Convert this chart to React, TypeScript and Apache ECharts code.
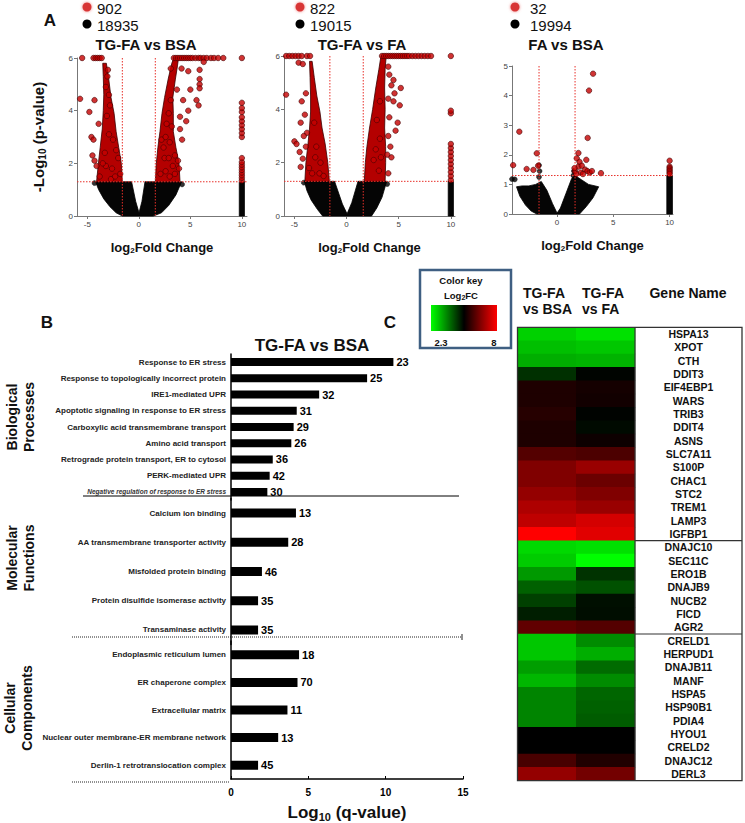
import React, { useEffect, useRef } from 'react';
import * as echarts from 'echarts';

// ---------------- Panel A : volcano plots ----------------
const volcanoTitles = ['TG-FA vs BSA', 'TG-FA vs FA', 'FA vs BSA'];
const sigCounts = ['902', '822', '32'];
const nonSigCounts = ['18935', '19015', '19994'];
const pThreshold = 1.3;
const fcThreshold = 1.6;
const volcanoXTicks = [[-5, 0, 5, 10], [-5, 0, 5, 10], [0, 5, 10]];

// plot 1: TG-FA vs BSA
const v1BlackArea = [[-4.2, 1.3], [-3.9, 1.0], [-3.4, 0.65], [-2.8, 0.35], [-2.2, 0.12], [-1.6, 0], [1.4, 0], [2.2, 0.12], [2.9, 0.4], [3.6, 0.8], [4.15, 1.3], [0.6, 1.3], [0.3, 0.55], [0.02, 0.12], [-0.3, 0.55], [-0.7, 1.3]];
const v1ColBlack = [[9.75, 0], [10.25, 0], [10.25, 1.3], [9.75, 1.3]];
const v1RedLeft = [[-4.1, 1.3], [-3.95, 1.9], [-3.75, 2.6], [-3.55, 3.3], [-3.45, 4.0], [-3.4, 4.6], [-3.45, 5.3], [-3.5, 5.8], [-3.15, 5.8], [-2.95, 5.3], [-2.7, 4.5], [-2.4, 3.9], [-2.2, 3.2], [-1.95, 2.6], [-1.7, 2.0], [-1.6, 1.3]];
const v1RedRight = [[1.6, 1.3], [1.7, 2.0], [1.85, 2.6], [2.05, 3.2], [2.25, 3.9], [2.5, 4.5], [2.85, 5.2], [3.2, 5.8], [3.4, 6], [3.85, 6], [3.75, 5.7], [3.55, 5.2], [3.3, 4.5], [3.35, 3.9], [3.35, 3.2], [3.6, 2.6], [3.9, 2.0], [4.0, 1.3]];
const v1RedPoints = [
  [-5.5, 6], [-4.4, 6], [-4.2, 6], [-4.0, 6], [-3.8, 6], [-3.6, 6],
  [3.4, 6], [3.6, 6], [3.8, 6], [4.0, 6], [4.2, 6], [4.4, 6], [4.6, 6], [4.8, 6], [5.0, 6], [5.2, 6], [5.5, 6], [5.8, 6], [6.0, 6], [6.3, 6], [6.6, 6], [7.0, 6], [7.3, 6], [7.7, 6], [8.2, 6],
  [-5.7, 4.45], [-4.8, 3.95], [-4.3, 4.4], [-4.6, 3.0], [-4.4, 2.9], [-4.5, 2.3], [-4.3, 2.1], [-4.1, 1.9], [-3.9, 3.5], [-3.0, 5.55], [-3.05, 5.3], [-2.8, 4.2], [-2.5, 2.9], [-2.2, 2.5], [-2.0, 2.2], [-1.8, 1.6], [-3.8, 1.5], [-3.2, 1.9], [-2.7, 1.4],
  [-3.3, 2.4], [-2.9, 3.1], [-3.1, 3.8], [-2.6, 1.8], [-3.5, 2.0], [-2.3, 1.5], [-2.9, 4.6], [-3.2, 4.9],
  [2.1, 1.6], [2.5, 2.2], [3.0, 2.8], [3.5, 2.3], [3.9, 1.8], [4.2, 2.9], [4.0, 3.3], [4.15, 5.6], [4.8, 5.5], [5.9, 5.55], [5.9, 5.2], [5.9, 5.0], [5.9, 4.85], [5.0, 4.8], [5.6, 4.4], [5.8, 4.2], [4.8, 4.0], [4.0, 3.77], [4.3, 4.4], [6.3, 5.85], [3.7, 4.8], [3.1, 5.6], [2.7, 3.5], [3.8, 2.1], [4.6, 3.6], [3.0, 1.5], [3.5, 1.6], [2.2, 2.9],
  [2.6, 1.7], [2.9, 2.2], [3.3, 1.9], [2.4, 2.6], [2.9, 3.9], [3.1, 4.4], [2.6, 3.0], [3.2, 3.4],
  [10, 1.35], [10, 1.45], [10, 1.55], [10, 1.65], [10, 1.75], [10, 1.85], [10, 1.95], [10, 2.05], [10, 2.2], [10, 3.0], [10, 3.15], [10, 3.3], [10, 3.45], [10, 3.6], [10, 3.75], [10, 3.95], [10, 4.1], [10, 4.3], [10, 6]
];
const v1BlackPoints = [[-4.3, 1.25], [4.2, 1.2]];

// plot 2: TG-FA vs FA
const v2BlackArea = [[-4.05, 1.3], [-3.8, 0.95], [-3.4, 0.6], [-2.8, 0.25], [-2.3, 0], [2.4, 0], [2.9, 0.3], [3.4, 0.7], [3.85, 1.3], [1.1, 1.3], [0.5, 0.5], [0.05, 0.08], [-0.4, 0.45], [-1.15, 1.3]];
const v2ColBlack = [[9.75, 0], [10.25, 0], [10.25, 1.3], [9.75, 1.3]];
const v2RedLeft = [[-4.0, 1.3], [-3.9, 2.0], [-3.7, 2.7], [-3.55, 3.3], [-3.45, 3.9], [-3.45, 4.5], [-3.5, 5.2], [-3.55, 5.8], [-3.3, 5.8], [-3.1, 5.2], [-2.85, 4.5], [-2.55, 3.9], [-2.35, 3.3], [-2.05, 2.7], [-1.8, 2.0], [-1.65, 1.3]];
const v2RedRight = [[1.7, 1.3], [1.8, 2.0], [1.95, 2.6], [2.2, 3.3], [2.5, 4.0], [2.8, 4.8], [3.1, 5.5], [3.3, 6], [3.8, 6], [3.7, 5.5], [3.65, 4.8], [3.7, 4.0], [3.65, 3.3], [3.75, 2.6], [3.75, 2.0], [3.7, 1.3]];
const v2RedPoints = [
  [-5.8, 6], [-5.5, 6], [-5.2, 6], [-4.9, 6], [-4.6, 6], [-4.3, 6], [-3.8, 6], [-3.5, 6],
  [3.4, 6], [3.6, 6], [3.8, 6], [4.0, 6], [4.2, 6], [4.4, 6], [4.6, 6], [4.8, 6], [5.0, 6], [5.2, 6], [5.4, 6], [5.6, 6], [5.8, 6], [6.0, 6], [6.3, 6], [6.6, 6], [6.9, 6], [7.2, 6], [7.5, 6], [7.8, 6], [8.1, 6],
  [-5.8, 4.55], [-5.0, 2.8], [-4.8, 2.7], [-4.4, 1.84], [-4.2, 2.15], [-3.8, 3.12], [-4.3, 4.3], [-4.6, 5.75], [-4.2, 5.7], [-4.4, 3.5], [-4.5, 2.4], [-3.0, 2.2], [-2.6, 1.6], [-2.2, 1.5], [-3.3, 1.6],
  [-3.9, 2.6], [-4.1, 3.0], [-4.0, 3.8], [-3.9, 4.6], [-2.9, 2.6], [-3.1, 3.5], [-2.5, 2.0], [-3.6, 1.8],
  [5.2, 4.8], [5.1, 4.15], [4.9, 3.5], [4.6, 4.6], [4.5, 4.3], [4.3, 4.9], [4.7, 3.2], [4.2, 2.6], [4.3, 2.2], [4.0, 1.6], [3.1, 1.7], [2.6, 2.1], [3.2, 2.9], [4.5, 5.1], [4.1, 5.3], [4.0, 5.6],
  [4.0, 3.0], [4.1, 3.7], [4.0, 4.4], [3.9, 2.3], [2.8, 2.5], [3.3, 2.2], [2.9, 3.6], [3.2, 4.3],
  [10, 1.35], [10, 1.5], [10, 1.65], [10, 1.8], [10, 1.95], [10, 2.1], [10, 2.25], [10, 2.4], [10, 2.55], [10, 2.7], [10, 3.85], [10, 3.95], [10, 6]
];
const v2BlackPoints = [[-4.1, 1.25], [3.9, 1.2]];

// plot 3: FA vs BSA
const v3BlackArea = [[-3.6, 0.92], [-3.3, 0.6], [-2.8, 0.3], [-2.3, 0.1], [-1.8, 0], [2.0, 0], [2.6, 0.25], [3.2, 0.55], [3.7, 0.92], [2.8, 1.0], [2.2, 1.15], [1.6, 1.3], [1.3, 1.2], [0.8, 0.7], [0.3, 0.2], [0, 0.03], [-0.4, 0.35], [-0.9, 0.8], [-1.4, 1.1], [-1.9, 1.0], [-2.5, 0.95], [-3.1, 0.95]];
const v3ColBlack = [[9.75, 0], [10.25, 0], [10.25, 1.3], [9.75, 1.3]];
const v3RedPoints = [
  [-3.9, 1.65], [-3.35, 2.78], [-2.7, 1.52], [-2.1, 1.49], [-1.8, 2.05], [-1.68, 1.63],
  [1.6, 1.45], [1.75, 1.88], [1.9, 2.06], [2.0, 1.76], [1.9, 1.6], [2.2, 1.63], [2.1, 1.4], [2.6, 1.83], [2.5, 1.5], [2.72, 2.57], [2.84, 4.17], [3.2, 4.74], [2.7, 1.45], [2.9, 1.4], [3.1, 1.45], [3.9, 1.38], [2.3, 1.35], [1.7, 1.35], [1.55, 1.55],
  [10, 1.8], [10, 1.6], [10, 1.55], [10, 1.5], [10, 1.45], [10, 1.4], [10, 1.35]
];
const v3BlackPoints = [[-4.0, 1.18], [-3.75, 1.17], [-1.6, 1.65], [-1.55, 1.45], [-1.6, 1.25], [1.5, 1.45], [1.45, 1.3]];

// ---------------- Panel B : GO enrichment ----------------
const bpTerms = ['Response to ER stress', 'Response to topologically incorrect protein', 'IRE1-mediated UPR', 'Apoptotic signaling in response to ER stress', 'Carboxylic acid transmembrane transport', 'Amino acid transport', 'Retrograde protein transport, ER to cytosol', 'PERK-mediated UPR', 'Negative regulation of response to ER stress'];
const bpValues = [10.5, 8.8, 5.7, 4.25, 4.05, 3.9, 2.7, 2.5, 2.35];
const bpCounts = [23, 25, 32, 31, 29, 26, 36, 42, 30];
const mfTerms = ['Calcium ion binding', 'AA transmembrane transporter activity', 'Misfolded protein binding', 'Protein disulfide isomerase activity', 'Transaminase activity'];
const mfValues = [4.2, 3.7, 2.0, 1.75, 1.75];
const mfCounts = [13, 28, 46, 35, 35];
const ccTerms = ['Endoplasmic reticulum lumen', 'ER chaperone complex', 'Extracellular matrix', 'Nuclear outer membrane-ER membrane network', 'Derlin-1 retrotranslocation complex'];
const ccValues = [4.4, 4.3, 3.65, 3.05, 1.75];
const ccCounts = [18, 70, 11, 13, 45];

// ---------------- Panel C : heatmap ----------------
const heatColumns = ['TG-FA vs BSA', 'TG-FA vs FA'];
const genes = ['HSPA13', 'XPOT', 'CTH', 'DDIT3', 'EIF4EBP1', 'WARS', 'TRIB3', 'DDIT4', 'ASNS', 'SLC7A11', 'S100P', 'CHAC1', 'STC2', 'TREM1', 'LAMP3', 'IGFBP1', 'DNAJC10', 'SEC11C', 'ERO1B', 'DNAJB9', 'NUCB2', 'FICD', 'AGR2', 'CRELD1', 'HERPUD1', 'DNAJB11', 'MANF', 'HSPA5', 'HSP90B1', 'PDIA4', 'HYOU1', 'CRELD2', 'DNAJC12', 'DERL3'];
const geneGroupSizes = [16, 7, 11];
const fcTgVsBsa = [2.81, 3.01, 3.21, 4.61, 5.49, 5.49, 5.58, 5.49, 5.49, 6.09, 6.58, 6.58, 6.8, 7.09, 7.29, 8.0, 2.73, 2.87, 3.44, 4.07, 4.44, 4.81, 6.23, 2.93, 2.93, 3.38, 3.1, 3.67, 3.67, 3.67, 5.15, 5.15, 5.95, 6.8];
const fcTgVsFa = [2.64, 2.93, 3.15, 5.1, 5.38, 5.35, 5.12, 5.04, 5.3, 6.0, 6.86, 6.35, 6.58, 6.86, 7.52, 7.66, 2.64, 2.3, 4.58, 4.24, 4.98, 5.01, 6.09, 3.58, 3.21, 3.95, 3.58, 4.01, 4.07, 4.12, 5.15, 5.15, 5.52, 6.43];
const keyMin = 2.3;
const keyMax = 8;
const keyColors = ['#00ff00', '#000000', '#ff0000'];

const FONT = 'Liberation Sans, Arial, sans-serif';
const NARROW = 'Liberation Sans Narrow, Arial Narrow, sans-serif';

function polySeries(points: number[][], idx: number, fill: string, stroke: string, z: number) {
  return {
    type: 'custom', xAxisIndex: idx, yAxisIndex: idx, data: points, silent: true, z,
    renderItem: (params: any, api: any) => {
      if (params.dataIndex !== 0) return { type: 'group', children: [] };
      return {
        type: 'polygon',
        shape: { points: points.map((p) => api.coord(p)) },
        style: { fill, stroke, lineWidth: 0.8 },
      };
    },
  };
}

// threshold lines: [x, y, orientation(0 = horizontal at y, 1 = vertical at x)]
function thresholdSeries(idx: number) {
  const data = [[0, pThreshold, 0], [-fcThreshold, 0, 1], [fcThreshold, 0, 1]];
  return {
    type: 'custom', xAxisIndex: idx, yAxisIndex: idx, data, silent: true, z: 6,
    encode: { x: 0, y: 1 },
    renderItem: (params: any, api: any) => {
      const cs = params.coordSys;
      const pt = api.coord([api.value(0), api.value(1)]);
      const shape = api.value(2) === 0
        ? { x1: cs.x, y1: pt[1], x2: cs.x + cs.width, y2: pt[1] }
        : { x1: pt[0], y1: cs.y, x2: pt[0], y2: cs.y + cs.height };
      return { type: 'line', shape, style: { stroke: '#e8302a', lineWidth: 1, lineDash: [1.5, 1.5] } };
    },
  };
}

function buildOption() {
  const volcanoGrids = [
    { left: 77, top: 58, width: 170, height: 158 },
    { left: 284, top: 56, width: 171, height: 160 },
    { left: 512, top: 66, width: 161, height: 148 },
  ];
  const xRanges = [[-6, 10.5], [-6, 10.4], [-4, 10.3]];
  const yMax = [6, 6, 5];
  const yInt = [2, 2, 1];
  const blackAreas = [v1BlackArea, v2BlackArea, v3BlackArea];
  const colBlacks = [v1ColBlack, v2ColBlack, v3ColBlack];
  const redAreas = [[v1RedLeft, v1RedRight], [v2RedLeft, v2RedRight], []];
  const redPts = [v1RedPoints, v2RedPoints, v3RedPoints];
  const blackPts = [v1BlackPoints, v2BlackPoints, v3BlackPoints];

  const subRich = (size: number, sub: number) => ({
    b: { fontSize: size, fontWeight: 'bold', color: '#111', fontFamily: FONT },
    s: { fontSize: sub, fontWeight: 'bold', color: '#111', fontFamily: FONT, padding: [Math.round(size * 0.45), 0, 0, 0] },
  });

  const grid: any[] = [];
  const xAxis: any[] = [];
  const yAxis: any[] = [];
  const series: any[] = [];

  for (let i = 0; i < 3; i++) {
    grid.push(volcanoGrids[i]);
    xAxis.push({
      gridIndex: i, type: 'value', min: xRanges[i][0], max: xRanges[i][1],
      splitLine: { show: false },
      axisLine: { show: true, onZero: false, lineStyle: { color: '#777', width: 1 } },
      axisTick: { show: true, length: 3, customValues: volcanoXTicks[i], lineStyle: { color: '#777' } },
      axisLabel: { customValues: volcanoXTicks[i], fontSize: 8, color: '#444', margin: 4, fontFamily: FONT },
      name: '{b|log}{s|2}{b|Fold Change}', nameLocation: 'middle', nameGap: 24,
      nameTextStyle: { rich: subRich(13, 8) },
    });
    yAxis.push({
      gridIndex: i, type: 'value', min: 0, max: yMax[i], interval: yInt[i],
      splitLine: { show: false },
      axisLine: { show: true, onZero: false, lineStyle: { color: '#777', width: 1 } },
      axisTick: { show: true, length: 3, lineStyle: { color: '#777' } },
      axisLabel: { fontSize: 8, color: '#444', margin: 4, fontFamily: FONT },
      name: i === 0 ? '{b|-Log}{s|10}{b| (p-value)}' : '', nameLocation: 'middle', nameGap: 30,
      nameTextStyle: { rich: subRich(15, 10) },
    });
    series.push(polySeries(blackAreas[i], i, '#050505', '#000', 1));
    series.push(polySeries(colBlacks[i], i, '#050505', '#000', 1));
    redAreas[i].forEach((a) => series.push(polySeries(a, i, '#b40000', '#3a0000', 2)));
    series.push({
      type: 'scatter', xAxisIndex: i, yAxisIndex: i, data: blackPts[i], symbolSize: 5, z: 3, silent: true,
      itemStyle: { color: '#000', borderColor: '#000', borderWidth: 0.5 },
    });
    series.push({
      type: 'scatter', xAxisIndex: i, yAxisIndex: i, data: redPts[i], symbolSize: 5.5, z: 3, silent: true,
      itemStyle: { color: '#c40000', borderColor: '#3a0000', borderWidth: 0.7 },
    });
    series.push(thresholdSeries(i));
  }

  // Panel B grids
  const barGrids = [
    { left: 231, top: 354, width: 232, height: 146 },
    { left: 231, top: 498.5, width: 232, height: 146 },
    { left: 231, top: 641, width: 232, height: 146 },
  ];
  const terms = [bpTerms, mfTerms, ccTerms];
  const vals = [bpValues, mfValues, ccValues];
  const counts = [bpCounts, mfCounts, ccCounts];
  for (let k = 0; k < 3; k++) {
    const gi = 3 + k;
    grid.push(barGrids[k]);
    const isLast = k === 2;
    xAxis.push({
      gridIndex: gi, type: 'value', min: 0, max: 15, interval: 5, show: isLast,
      splitLine: { show: false },
      axisLine: { show: true, lineStyle: { color: '#000', width: 1.5 } },
      axisTick: { show: true, inside: true, length: 3, lineStyle: { color: '#000' } },
      axisLabel: { fontSize: 10, fontWeight: 'bold', color: '#000', fontFamily: NARROW, margin: 8 },
      name: isLast ? '{b|Log}{s|10}{b| (q-value)}' : '', nameLocation: 'middle', nameGap: 24,
      nameTextStyle: { rich: subRich(17, 11) },
    });
    yAxis.push({
      gridIndex: gi, type: 'category', data: terms[k], inverse: true,
      axisLine: { show: true, lineStyle: { color: '#000', width: 1.5 } },
      axisTick: { show: false },
      axisLabel: {
        fontSize: 8, fontWeight: 'bold', color: '#222', fontFamily: NARROW, margin: 5, interval: 0,
        formatter: (v: string) => (v.startsWith('Negative') ? `{sm|${v}}` : v),
        rich: { sm: { fontSize: 6.5, fontStyle: 'italic', fontWeight: 'bold', color: '#333', fontFamily: NARROW } },
      },
    });
    series.push({
      type: 'bar', xAxisIndex: gi, yAxisIndex: gi, data: vals[k], barWidth: k === 0 ? 8 : 9, silent: true,
      itemStyle: { color: '#000' },
      label: {
        show: true, position: 'right', distance: 3, fontSize: 11, fontWeight: 'bold', color: '#000', fontFamily: NARROW,
        formatter: (p: any) => String(counts[k][p.dataIndex]),
      },
    });
  }

  // Panel C heatmap
  const hg = { left: 517.5, top: 327.3, width: 117.5, height: 453.4 };
  grid.push(hg);
  xAxis.push({ gridIndex: 6, type: 'category', data: heatColumns, show: false });
  yAxis.push({
    gridIndex: 6, type: 'category', data: genes, inverse: true, position: 'right',
    axisLine: { show: false }, axisTick: { show: false }, splitLine: { show: false },
    axisLabel: { interval: 0, align: 'center', margin: 53.5, fontSize: 10.5, fontWeight: 'bold', color: '#111', fontFamily: FONT },
  });
  const heatData: number[][] = [];
  genes.forEach((_, r) => {
    heatData.push([0, r, fcTgVsBsa[r]]);
    heatData.push([1, r, fcTgVsFa[r]]);
  });
  const heatSeriesIndex = series.length;
  series.push({ type: 'heatmap', xAxisIndex: 6, yAxisIndex: 6, data: heatData, silent: true });

  // graphics
  const g: any[] = [];
  const txt = (text: string, x: number, y: number, size: number, opts: any = {}) => ({
    type: 'text', x, y, silent: true, rotation: opts.rotation || 0,
    style: {
      text, fontSize: size, fontWeight: opts.weight || 'bold', fill: opts.fill || '#111',
      fontFamily: opts.family || FONT, align: opts.align || 'center', verticalAlign: 'middle',
      rich: opts.rich,
    },
  });
  g.push(txt('A', 50, 20, 17));
  const legendX = [87, 300, 515];
  const legendTextX = [97, 310, 530];
  for (let i = 0; i < 3; i++) {
    g.push({ type: 'circle', shape: { cx: legendX[i], cy: 7, r: 4.5 }, style: { fill: '#d83434', shadowBlur: 3, shadowColor: '#f08080' }, silent: true });
    g.push({ type: 'circle', shape: { cx: legendX[i], cy: 24, r: 4.5 }, style: { fill: '#000' }, silent: true });
    g.push(txt(sigCounts[i], legendTextX[i], 8, 15, { weight: 'normal', align: 'left' }));
    g.push(txt(nonSigCounts[i], legendTextX[i], 25, 15, { weight: 'normal', align: 'left' }));
  }
  g.push(txt(volcanoTitles[0], 146, 44, 15));
  g.push(txt(volcanoTitles[1], 362, 44, 15));
  g.push(txt(volcanoTitles[2], 566, 44, 15));

  // panel B annotations
  g.push(txt('B', 47, 322, 17));
  g.push(txt('TG-FA vs BSA', 312, 345, 17));
  const R = Math.PI / 2;
  g.push(txt('Biological', 12, 417, 14, { rotation: R }));
  g.push(txt('Processes', 29, 417, 14, { rotation: R }));
  g.push(txt('Molecular', 12, 558, 14, { rotation: R }));
  g.push(txt('Functions', 29, 558, 14, { rotation: R }));
  g.push(txt('Cellular', 10, 708, 14, { rotation: R }));
  g.push(txt('Components', 27, 708, 14, { rotation: R }));
  g.push({ type: 'line', silent: true, shape: { x1: 83, y1: 496, x2: 459, y2: 496 }, style: { stroke: '#000', lineWidth: 1 } });
  g.push({ type: 'line', silent: true, shape: { x1: 72, y1: 637, x2: 462, y2: 637 }, style: { stroke: '#222', lineWidth: 1, lineDash: [1, 1] } });
  g.push({ type: 'line', silent: true, shape: { x1: 462, y1: 634, x2: 462, y2: 640 }, style: { stroke: '#222', lineWidth: 1 } });
  g.push({ type: 'line', silent: true, shape: { x1: 72, y1: 782, x2: 230, y2: 782 }, style: { stroke: '#222', lineWidth: 1, lineDash: [1, 1] } });

  // panel C annotations
  g.push(txt('C', 390, 322, 17));
  g.push({ type: 'rect', silent: true, shape: { x: 420, y: 270, width: 91, height: 78 }, style: { fill: '#fff', stroke: '#3f5f82', lineWidth: 2.5 } });
  g.push(txt('Color key', 461, 280, 9.5));
  g.push(txt('{b|Log}{s|2}{b|FC}', 461, 295, 9.5, { rich: { b: { fontSize: 9.5, fontWeight: 'bold', fill: '#111', fontFamily: FONT }, s: { fontSize: 7, fontWeight: 'bold', fill: '#111', fontFamily: FONT, padding: [4, 0, 0, 0] } } }));
  g.push({
    type: 'rect', silent: true, shape: { x: 431, y: 305, width: 66, height: 26 },
    style: {
      fill: new echarts.graphic.LinearGradient(0, 0, 1, 0, [
        { offset: 0, color: keyColors[0] }, { offset: 0.5, color: keyColors[1] }, { offset: 1, color: keyColors[2] },
      ]),
    },
  });
  g.push(txt(String(keyMin), 441, 342, 9.5));
  g.push(txt(String(keyMax), 494, 342, 9.5));
  g.push(txt('TG-FA', 523, 293, 14, { align: 'left' }));
  g.push(txt('vs BSA', 523, 309, 14, { align: 'left' }));
  g.push(txt('TG-FA', 582, 293, 14, { align: 'left' }));
  g.push(txt('vs FA', 582, 309, 14, { align: 'left' }));
  g.push(txt('Gene Name', 688, 293, 14));

  const boxRight = 742;
  g.push({ type: 'rect', silent: true, z: 10, shape: { x: hg.left, y: hg.top, width: boxRight - hg.left, height: hg.height }, style: { fill: 'none', stroke: '#333', lineWidth: 1.3 } });
  const divX = hg.left + hg.width;
  g.push({ type: 'line', silent: true, z: 10, shape: { x1: divX, y1: hg.top, x2: divX, y2: hg.top + hg.height }, style: { stroke: '#333', lineWidth: 1.2 } });
  const rowH = hg.height / genes.length;
  let acc = 0;
  for (let k = 0; k < geneGroupSizes.length - 1; k++) {
    acc += geneGroupSizes[k];
    const y = hg.top + acc * rowH;
    g.push({ type: 'line', silent: true, z: 10, shape: { x1: divX, y1: y, x2: boxRight, y2: y }, style: { stroke: '#333', lineWidth: 1.2 } });
  }

  return {
    animation: false,
    backgroundColor: '#fff',
    textStyle: { fontFamily: FONT },
    grid, xAxis, yAxis, series,
    visualMap: {
      show: false, type: 'continuous', seriesIndex: heatSeriesIndex, dimension: 2,
      min: keyMin, max: keyMax, inRange: { color: keyColors },
    },
    graphic: g,
  };
}

export default function App() {
  const ref = useRef<HTMLDivElement>(null);
  useEffect(() => {
    const chart = echarts.init(ref.current!, null, { renderer: 'svg' });
    chart.setOption(buildOption() as any);
    return () => chart.dispose();
  }, []);
  return <div ref={ref} style={{ position: 'absolute', left: 0, top: 0, width: 745, height: 823, background: '#fff' }} />;
}
